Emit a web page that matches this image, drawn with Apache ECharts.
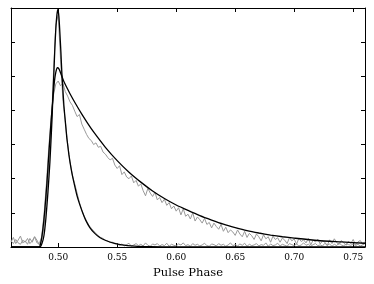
<!DOCTYPE html>
<html>
<head>
<meta charset="utf-8">
<script src="https://cdn.jsdelivr.net/npm/echarts@6/dist/echarts.min.js"></script>
<style>html,body{margin:0;padding:0;background:#fff}#c{width:374px;height:284px}</style>
</head>
<body>
<div id="c"></div>
<script>
// Sampling grid of the observed profiles
var phaseStart = 0.46;
var phaseStep = 0.002;

// Observed profile, narrow pulse (gray)
var narrowObs = [
  0.15,0.28,0.10,0.20,0.32,0.12,0.18,0.08,0.25,0.14,0.30,0.20,0.06,
  0.22,0.60,1.40,2.40,3.40,5.10,6.50,6.80,5.50,4.30,3.70,3.00,2.50,2.10,1.85,1.58,1.30,1.08,0.90,0.76,0.64,0.55,0.47,0.40,0.33,0.28,0.25,0.20,0.18,0.13,0.14,0.09,0.10,
  0.04,0.09,0.03,0.07,0.11,0.02,0.06,0.10,0.04,0.08,
  0.03,0.12,0.05,0.02,0.09,0.06,0.10,0.03,0.07,0.04,
  0.11,0.02,0.08,0.05,0.03,0.09,0.06,0.12,0.04,0.07,
  0.02,0.10,0.05,0.08,0.03,0.06,0.11,0.04,0.02,0.09,
  0.07,0.03,0.10,0.05,0.08,0.02,0.06,0.12,0.04,0.07,
  0.03,0.09,0.05,0.11,0.02,0.08,0.04,0.06,0.10,0.03,
  0.07,0.05,0.12,0.02,0.09,0.04,0.06,0.11,0.03,0.08,
  0.05,0.02,0.10,0.07,0.04,0.09,0.03,0.06,0.12,0.05,
  0.08,0.02,0.07,0.10,0.04,0.06,0.03,0.11,0.05,0.09,
  0.02,0.08,0.04,0.12,0.06,0.03,0.10,0.07,0.05,0.09,
  0.04,0.08,0.03,0.06,0.10
];

// Observed profile, broad pulse (gray)
var broadObs = [
  0.18,0.10,0.22,0.12,0.08,0.20,0.14,0.25,0.10,0.18,0.30,0.12,0.10,
  0.30,0.95,1.85,2.90,3.80,4.45,4.78,4.86,4.72,4.80,4.55,4.42,4.25,4.15,3.98,3.82,3.88,3.60,
  3.45,3.30,3.18,3.12,3.00,3.05,2.92,2.95,2.78,2.72,2.62,2.55,2.60,2.40,2.30,2.38,2.12,2.20,2.05,2.00,
  2.08,1.88,1.95,1.78,1.85,1.65,1.50,1.72,1.58,1.48,1.60,1.38,1.45,1.30,1.40,1.22,1.30,1.12,1.20,1.05,
  1.15,0.94,1.12,0.90,0.96,0.82,1.00,0.76,0.88,0.80,0.70,0.84,0.66,0.72,0.56,0.70,0.60,0.52,0.66,0.46,
  0.58,0.42,0.50,0.44,0.34,0.50,0.38,0.30,0.46,0.28,0.40,0.33,0.22,0.38,0.30,0.18,0.36,0.24,0.30,0.14,
  0.32,0.22,0.27,0.14,0.26,0.20,0.10,0.28,0.18,0.24,
  0.08,0.26,0.16,0.21,0.12,0.25,0.06,0.20,0.15,0.23,0.09,0.18,0.14,0.04,0.21,0.10,0.24,0.13,0.07,0.19,
  0.12,0.05,0.17,0.10,0.22,0.06,0.15,0.19,0.08,0.16
];

// Model fit, narrow pulse (black)
var narrowFitX = [0.4600,0.4845,0.4862,0.4879,0.4896,0.4913,0.4930,0.4947,0.4955,0.4964,0.4972,0.4980,0.4989,0.4997,0.5006,0.5014,0.5023,0.5031,0.5040,0.5048,0.5057,0.5065,0.5073,0.5082,0.5090,0.5099,0.5116,0.5133,0.5158,0.5183,0.5209,0.5234,0.5268,0.5310,0.5352,0.5403,0.5462,0.5538,0.5648,0.5775,0.6000,0.7600];
var narrowFitY = [0,0,0.10,0.33,0.85,1.60,2.50,3.70,4.40,5.15,5.85,6.40,6.80,6.96,6.75,6.29,5.70,5.10,4.60,4.15,3.80,3.50,3.20,2.95,2.72,2.51,2.17,1.89,1.52,1.24,0.99,0.78,0.57,0.40,0.28,0.19,0.12,0.06,0.025,0.01,0,0];

// Model fit, broad pulse (black)
var broadFitX = [0.4600,0.4837,0.4854,0.4871,0.4887,0.4904,0.4921,0.4938,0.4955,0.4968,0.4980,0.4993,0.5006,0.5018,0.5031,0.5050,0.5100,0.5150,0.5200,0.5250,0.5300,0.5400,0.5500,0.5600,0.5700,0.5800,0.5900,0.6000,0.6100,0.6200,0.6300,0.6400,0.6500,0.6600,0.6700,0.6800,0.6900,0.7000,0.7200,0.7400,0.7600];
var broadFitY = [0,0,0.15,0.55,1.10,1.85,2.75,3.60,4.35,4.85,5.12,5.25,5.22,5.12,5.00,4.83,4.49,4.18,3.89,3.62,3.37,2.92,2.53,2.19,1.90,1.64,1.42,1.23,1.07,0.92,0.79,0.67,0.57,0.48,0.41,0.35,0.30,0.26,0.19,0.15,0.11];

// Tick labels
var xTickValues = [0.50,0.55,0.60,0.65,0.70,0.75];
var xAxisTitle = 'Pulse Phase';

function grid(vals){ return vals.map(function(v,i){ return [+(phaseStart + i*phaseStep).toFixed(4), v]; }); }
function pairs(xs, ys){ return xs.map(function(x,i){ return [x, ys[i]]; }); }

var FONT = 'DejaVu Serif';
var chart = echarts.init(document.getElementById('c'), null, {renderer:'canvas'});
var frame = {show:true, onZero:false, lineStyle:{color:'#000', width:1}};
chart.setOption({
  animation:false,
  backgroundColor:'#fff',
  grid:{left:11, right:9, top:8, bottom:28},
  xAxis:[{
    type:'value', min:0.46, max:0.76, position:'bottom',
    axisLine:frame,
    axisTick:{show:true, inside:true, length:4, customValues:xTickValues, lineStyle:{color:'#000'}},
    axisLabel:{show:true, customValues:xTickValues, formatter:function(v){return v.toFixed(2);}, color:'#000', fontFamily:FONT, fontSize:9, margin:6},
    splitLine:{show:false},
    name:xAxisTitle, nameLocation:'middle', nameGap:20,
    nameTextStyle:{color:'#000', fontFamily:FONT, fontSize:11.5}
  },{
    type:'value', min:0.46, max:0.76, position:'top',
    axisLine:frame,
    axisTick:{show:true, inside:true, length:4, customValues:xTickValues, lineStyle:{color:'#000'}},
    axisLabel:{show:false}, splitLine:{show:false}
  }],
  yAxis:[{
    type:'value', min:0, max:7, interval:1, position:'left',
    axisLine:frame,
    axisTick:{show:true, inside:true, length:4, lineStyle:{color:'#000'}},
    axisLabel:{show:false}, splitLine:{show:false}
  },{
    type:'value', min:0, max:7, interval:1, position:'right',
    axisLine:frame,
    axisTick:{show:true, inside:true, length:4, lineStyle:{color:'#000'}},
    axisLabel:{show:false}, splitLine:{show:false}
  }],
  series:[
    {type:'line', data:grid(narrowObs), showSymbol:false, lineStyle:{color:'#999', width:1}, z:2},
    {type:'line', data:grid(broadObs), showSymbol:false, lineStyle:{color:'#999', width:1}, z:2},
    {type:'line', data:pairs(narrowFitX, narrowFitY), showSymbol:false, smooth:0.2, lineStyle:{color:'#000', width:1.3}, z:3},
    {type:'line', data:pairs(broadFitX, broadFitY), showSymbol:false, smooth:0.2, lineStyle:{color:'#000', width:1.3}, z:3}
  ]
});
</script>
</body>
</html>
